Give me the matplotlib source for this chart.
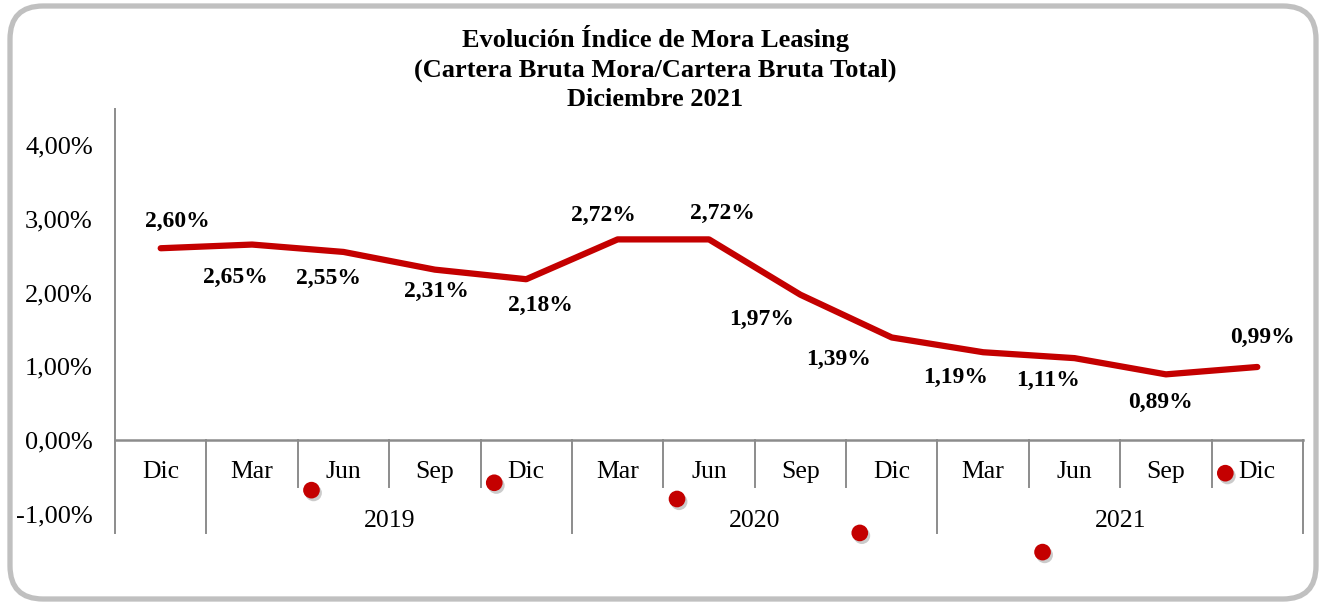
import matplotlib
matplotlib.use("Agg")
import matplotlib.pyplot as plt
from matplotlib.patches import FancyBboxPatch
import matplotlib.patheffects as pe

# ---- data ----
months = ["Dic", "Mar", "Jun", "Sep", "Dic", "Mar", "Jun", "Sep", "Dic", "Mar", "Jun", "Sep", "Dic"]
years = ["2019", "2020", "2021"]
mora = [2.60, 2.65, 2.55, 2.31, 2.18, 2.72, 2.72, 1.97, 1.39, 1.19, 1.11, 0.89, 0.99]
mora_labels = ["2,60%", "2,65%", "2,55%", "2,31%", "2,18%", "2,72%", "2,72%",
               "1,97%", "1,39%", "1,19%", "1,11%", "0,89%", "0,99%"]
dot_x = [1.65, 3.65, 5.65, 7.65, 9.65, 11.65]
dot_y = [-0.68, -0.58, -0.80, -1.26, -1.52, -0.45]
yticks = [-1, 0, 1, 2, 3, 4]
ytick_labels = ["-1,00%", "0,00%", "1,00%", "2,00%", "3,00%", "4,00%"]
title = "Evolución Índice de Mora Leasing\n(Cartera Bruta Mora/Cartera Bruta Total)\nDiciembre 2021"

# ---- style ----
RED = "#C40000"
GRID = "#8C8C8C"
SERIF = ["Liberation Serif", "DejaVu Serif"]
# label offsets in points (dx, dy)
label_off = [(12, 19), (-12, -24), (-11, -19), (1, -16), (10, -19), (-10, 17), (10, 19),
             (-28, -18), (-38, -16), (-20, -18), (-19, -16), (-4, -20), (4, 21)]

fig = plt.figure(figsize=(13.24, 6.07), dpi=100)
fig.patch.set_facecolor("white")

# rounded frame
frame = FancyBboxPatch((10 / 1324, 8 / 607), 1306 / 1324, 593 / 607,
                       boxstyle="round,pad=0,rounding_size=0.025",
                       transform=fig.transFigure, facecolor="white",
                       edgecolor="#C0C0C0", linewidth=3.8, mutation_aspect=1324 / 607,
                       zorder=-5)
fig.patches.append(frame)

ax = fig.add_axes([115 / 1324, 1 - 558 / 607, 1188 / 1324, 449 / 607])
ax.set_zorder(2)
ax.set_facecolor("none")
ax.set_xlim(-0.5, len(months) - 0.5)
ax.set_ylim(-1.6, 4.488)
for s in ax.spines.values():
    s.set_visible(False)
ax.set_xticks([])
ax.set_yticks(yticks)
ax.set_yticklabels(ytick_labels, fontfamily=SERIF, fontsize=19)
ax.tick_params(axis="y", length=0, pad=16)

# axis lines
n = len(months)
ax.plot([-0.5, -0.5], [-1.26, 4.488], color=GRID, lw=1.4, clip_on=False)
ax.plot([-0.5, n - 0.5], [0, 0], color=GRID, lw=1.8, clip_on=False)
for i in range(1, n + 1):
    b = i - 0.5
    long_sep = (i - 1) % 4 == 0
    ax.plot([b, b], [0, -1.26 if long_sep else -0.64], color=GRID, lw=1.4, clip_on=False)

# category labels
for i, m in enumerate(months):
    ax.text(i, -0.44, m, ha="center", va="center", fontfamily=SERIF, fontsize=18.5)
for k, yr in enumerate(years):
    ax.text(1 + 4 * k + 1.5, -1.1, yr, ha="center", va="center", fontfamily=SERIF, fontsize=18.5)

# line
xs = list(range(n))
ax.plot(xs, mora, color=RED, lw=4.5, solid_capstyle="round", solid_joinstyle="round", zorder=3)
for x, v, lab, (dx, dy) in zip(xs, mora, mora_labels, label_off):
    ax.annotate(lab, (x, v), xytext=(dx, dy), textcoords="offset points",
                ha="center", va="center", fontfamily=SERIF, fontweight="bold", fontsize=17)

# dots
ax.plot(dot_x, dot_y, linestyle="none", marker="o", markersize=12, color=RED,
        markeredgewidth=0, clip_on=False, zorder=4,
        path_effects=[pe.SimplePatchShadow(offset=(1.5, -2), alpha=0.3, shadow_rgbFace="#555555"), pe.Normal()])

fig.text(655 / 1324, 1 - 68 / 607, title, ha="center", va="center", fontfamily=SERIF,
         fontweight="bold", fontsize=19, linespacing=1.34)

fig.savefig("out.png", dpi=100, facecolor="white")
